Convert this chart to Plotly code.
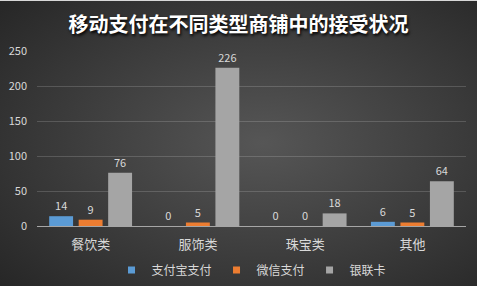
import base64
import plotly.graph_objects as go

# Shop categories and counts of shops accepting each payment method
categories = ["餐饮类", "服饰类", "珠宝类", "其他"]
alipay = [14, 0, 0, 6]
wechat = [9, 5, 0, 5]
unionpay = [76, 226, 18, 64]

series_names = ["支付宝支付", "微信支付", "银联卡"]
series_values = [alipay, wechat, unionpay]
series_colors = ["#5b9bd5", "#ed7d31", "#a5a5a5"]

y_ticks = [0, 50, 100, 150, 200, 250]

FONT = "Noto Sans CJK SC, Noto Sans, sans-serif"
TEXT = "#d9d9d9"

# Dark radial-gradient backdrop as an inline SVG
bg_svg = """<svg xmlns='http://www.w3.org/2000/svg' width='477' height='286' viewBox='0 0 477 286' preserveAspectRatio='none'>
<defs><radialGradient id='g' cx='0.55' cy='0.5' r='0.75'>
<stop offset='0' stop-color='#565656'/><stop offset='1' stop-color='#262626'/>
</radialGradient></defs>
<rect width='477' height='286' fill='url(#g)'/>
<rect width='477' height='1' fill='#d8d8d8'/>
</svg>"""
bg_uri = "data:image/svg+xml;base64," + base64.b64encode(bg_svg.encode()).decode()

fig = go.Figure()
for name, vals, col in zip(series_names, series_values, series_colors):
    fig.add_trace(go.Bar(
        x=categories, y=vals, name=name,
        marker=dict(color=col, line=dict(width=0)),
        text=[str(v) for v in vals], textposition="outside",
        textfont=dict(color=TEXT, size=11, family=FONT),
        cliponaxis=False, showlegend=False,
    ))
    # compact square legend key
    fig.add_trace(go.Scatter(
        x=[None], y=[None], mode="markers", name=name,
        marker=dict(symbol="square", size=7, color=col),
    ))

L, R, T, B = 37, 11, 51, 60
W, H = 477, 286
pw, ph = W - L - R, H - T - B

fig.update_layout(
    width=W, height=H,
    margin=dict(l=L, r=R, t=T, b=B, pad=0, autoexpand=False),
    paper_bgcolor="#2e2e2e",
    plot_bgcolor="rgba(0,0,0,0)",
    barmode="group", bargap=0.175, bargroupgap=0.19,
    font=dict(family=FONT, color=TEXT),
    title=dict(
        text="移动支付在不同类型商铺中的接受状况",
        x=0.5, xanchor="center", xref="container",
        y=1 - 25 / H, yanchor="middle", yref="container",
        font=dict(size=20, color="#ffffff", family=FONT, weight="bold",
                  shadow="1px 2px 3px #000000"),
    ),
    xaxis=dict(
        showgrid=False, showline=True, linecolor="#a6a6a6", linewidth=1,
        ticks="", tickfont=dict(size=13, color=TEXT, family=FONT),
        ticklabelstandoff=6, automargin=False,
    ),
    yaxis=dict(
        range=[0, 250], tickvals=y_ticks, showgrid=True,
        gridcolor="rgba(255,255,255,0.16)", gridwidth=1,
        zeroline=False, showline=False, ticks="",
        tickfont=dict(size=11, color=TEXT, family=FONT),
        ticklabelstandoff=9, automargin=False,
    ),
    legend=dict(
        orientation="h", x=0.5, xanchor="center",
        y=-(270 - (H - B)) / ph, yanchor="middle",
        font=dict(size=12, color=TEXT, family=FONT),
        itemwidth=30, bgcolor="rgba(0,0,0,0)",
    ),
    images=[dict(
        source=bg_uri, xref="paper", yref="paper",
        x=-L / pw, y=1 + T / ph, sizex=W / pw, sizey=H / ph,
        xanchor="left", yanchor="top", sizing="stretch", layer="below",
    )],
)

fig.write_html("out.html")
